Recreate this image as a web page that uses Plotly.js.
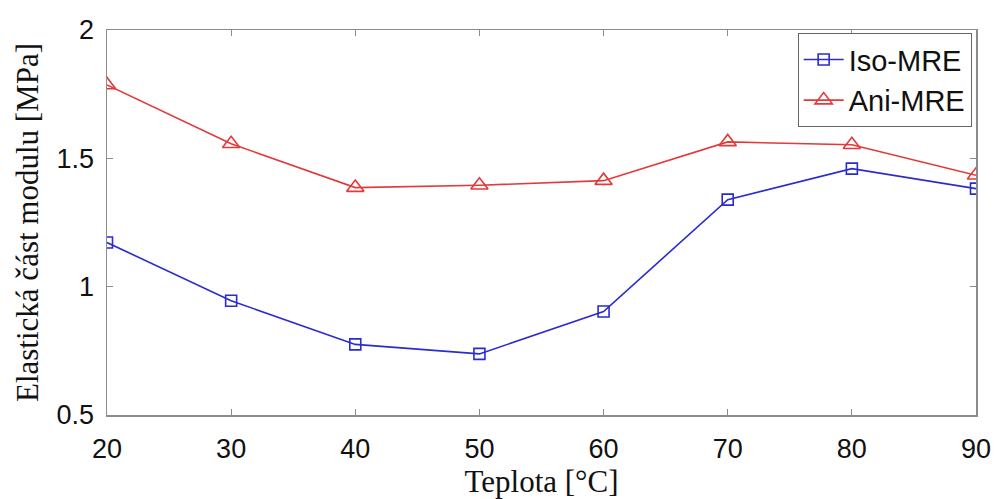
<!DOCTYPE html>
<html>
<head>
<meta charset="utf-8">
<script src="https://cdn.plot.ly/plotly-3.0.1.min.js"></script>
<style>
  html, body { margin: 0; padding: 0; background: #ffffff; }
  #chart { width: 995px; height: 499px; }
</style>
</head>
<body>
<div id="chart"></div>
<script>
// Temperature steps [°C]
const teplota = [20, 30, 40, 50, 60, 70, 80, 90];
// Storage (elastic) modulus [MPa]
const isoMRE = [1.172, 0.945, 0.775, 0.738, 0.903, 1.339, 1.460, 1.382];
const aniMRE = [1.786, 1.557, 1.386, 1.395, 1.413, 1.564, 1.553, 1.434];
const seriesNames = ['Iso-MRE', 'Ani-MRE'];
const xTicks = [20, 30, 40, 50, 60, 70, 80, 90];
const yTicks = [0.5, 1, 1.5, 2];
const yTickText = ['0.5', '1', '1.5', '2'];

const traces = [
  {
    x: teplota, y: isoMRE, name: seriesNames[0],
    type: 'scatter', mode: 'lines+markers',
    line: { color: '#2b2bd0', width: 1.6 },
    marker: { symbol: 'square-open', size: 11, color: '#2b2bd0', line: { width: 1.6 } }
  },
  {
    x: teplota, y: aniMRE, name: seriesNames[1],
    type: 'scatter', mode: 'lines+markers',
    line: { color: '#e23a3a', width: 1.6 },
    marker: { symbol: 'triangle-up-open', size: 15, color: '#e23a3a', line: { width: 1.6 } }
  }
];

const axisCommon = {
  showgrid: false, zeroline: false,
  showline: true, linecolor: '#8c8c8c', linewidth: 1.5, mirror: 'ticks',
  ticks: 'inside', ticklen: 6, tickwidth: 1, tickcolor: '#8c8c8c',
  tickfont: { family: 'Liberation Sans, Arial, sans-serif', size: 27, color: '#111111' }
};

const layout = {
  width: 995, height: 499,
  margin: { l: 107, r: 19, t: 30, b: 84 },
  paper_bgcolor: '#ffffff', plot_bgcolor: '#ffffff',
  showlegend: true,
  legend: {
    x: 0.995, y: 0.992, xanchor: 'right', yanchor: 'top',
    bgcolor: '#ffffff', bordercolor: '#666666', borderwidth: 1,
    font: { family: 'Liberation Sans, Arial, sans-serif', size: 29, color: '#111111' },
    tracegroupgap: 0, itemwidth: 40
  },
  xaxis: Object.assign({}, axisCommon, {
    range: [20, 90], tickvals: xTicks, ticktext: xTicks.map(String),
    ticklabelstandoff: 9,
    title: { text: 'Teplota [°C]', standoff: 0,
      font: { family: 'Liberation Serif, Times New Roman, serif', size: 31, color: '#111111' } }
  }),
  yaxis: Object.assign({}, axisCommon, {
    range: [0.5, 2], tickvals: yTicks, ticktext: yTickText,
    ticklabelstandoff: 6,
    title: { text: 'Elastická část modulu [MPa]', standoff: 8,
      font: { family: 'Liberation Serif, Times New Roman, serif', size: 31, color: '#111111' } }
  })
};

Plotly.newPlot('chart', traces, layout, { displayModeBar: false, staticPlot: true });
</script>
</body>
</html>
